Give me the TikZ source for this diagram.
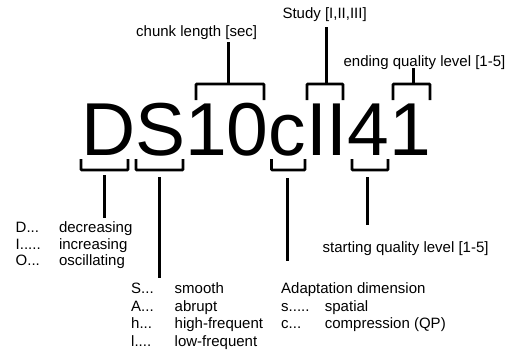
\documentclass[tikz,border=0pt]{standalone}
\usepackage{fontspec}
\setmainfont{Liberation Sans}
\begin{document}
\begin{tikzpicture}[x=1pt, y=-1pt,
		bracket/.style={line width=2.6pt, rounded corners=0.8pt},
		stem/.style={line width=3pt},
		lbl/.style={anchor=base west, inner sep=0pt, font=\fontsize{15}{17}\selectfont}]
		\useasboundingbox (0,0) rectangle (510,354);
		
		\node[anchor=base west, inner sep=0pt, font=\fontsize{75}{80}\selectfont] (code) at (80.8,155) {DS10cII41};
		
		% labels above
		\node[lbl] (chunk) at (136,36) {chunk length [sec]};
		\node[lbl] (study) at (282.3,18) {Study [I,II,III]};
		\node[lbl] (ending) at (343.4,66) {ending quality level [1-5]};
		
		% brackets above
		\coordinate (chunkL) at (196,100); \coordinate (chunkR) at (264,100);
		\coordinate (studyL) at (307,100); \coordinate (studyR) at (343,100);
		\coordinate (endL) at (393,100); \coordinate (endR) at (430,100);
		\draw[bracket] (chunkL) -- ++(0,-16) -| (chunkR);
		\draw[bracket] (studyL) -- ++(0,-16) -| (studyR);
		\draw[bracket] (endL) -- ++(0,-16) -| (endR);
		
		\coordinate (chunkM) at (228,84); \coordinate (chunkT) at (228,42);
		\coordinate (studyM) at (326,84); \coordinate (studyT) at (326,27);
		\coordinate (endM) at (413,84); \coordinate (endT) at (413,68);
		\draw[stem] (chunkM) -- (chunkT);
		\draw[stem] (studyM) -- (studyT);
		\draw[stem] (endM) -- (endT);
		
		% brackets below
		\coordinate (dirL) at (81,159); \coordinate (dirR) at (128,159);
		\coordinate (typL) at (136,159); \coordinate (typR) at (183,159);
		\coordinate (dimL) at (271.5,159); \coordinate (dimR) at (305,159);
		\coordinate (startL) at (352,159); \coordinate (startR) at (388,159);
		\draw[bracket] (dirL) -- ++(0,11) -| (dirR);
		\draw[bracket] (typL) -- ++(0,11) -| (typR);
		\draw[bracket] (dimL) -- ++(0,11) -| (dimR);
		\draw[bracket] (startL) -- ++(0,11) -| (startR);
		
		\coordinate (dirM) at (104,175); \coordinate (dirB) at (104,218);
		\coordinate (typM) at (159,177); \coordinate (typB) at (159,278);
		\coordinate (dimM) at (287,178); \coordinate (dimB) at (287,261);
		\coordinate (startM) at (367,177); \coordinate (startB) at (367,225);
		\draw[stem] (dirM) -- (dirB);
		\draw[stem] (typM) -- (typB);
		\draw[stem] (dimM) -- (dimB);
		\draw[stem] (startM) -- (startB);
		
		% labels below
		\node[lbl] (start) at (322.5,252.5) {starting quality level [1-5]};
		
		\node[lbl] (keyD) at (15.5,232.3) {D...};
		\node[lbl] (keyI) at (15.5,249) {I.....};
		\node[lbl] (keyO) at (15.5,265.5) {O...};
		\node[lbl] (decr) at (58.8,232.3) {decreasing};
		\node[lbl] (incr) at (58.8,249) {increasing};
		\node[lbl] (osc) at (58.8,265.5) {oscillating};
		
		\node[lbl] (keyS) at (131,293) {S...};
		\node[lbl] (keyA) at (131,311) {A...};
		\node[lbl] (keyh) at (131,328.7) {h...};
		\node[lbl] (keyl) at (131,346.3) {l....};
		\node[lbl] (smooth) at (174.5,293) {smooth};
		\node[lbl] (abrupt) at (174.5,311) {abrupt};
		\node[lbl] (high) at (174.5,328.7) {high-frequent};
		\node[lbl] (low) at (174.5,346.3) {low-frequent};
		
		\node[lbl] (adapt) at (281,293) {Adaptation dimension};
		\node[lbl] (keys) at (281,311) {s.....};
		\node[lbl] (keyc) at (281,328.7) {c...};
		\node[lbl] (spat) at (324.7,311) {spatial};
		\node[lbl] (comp) at (324.7,328.7) {compression (QP)};
	\end{tikzpicture}
\end{document}
